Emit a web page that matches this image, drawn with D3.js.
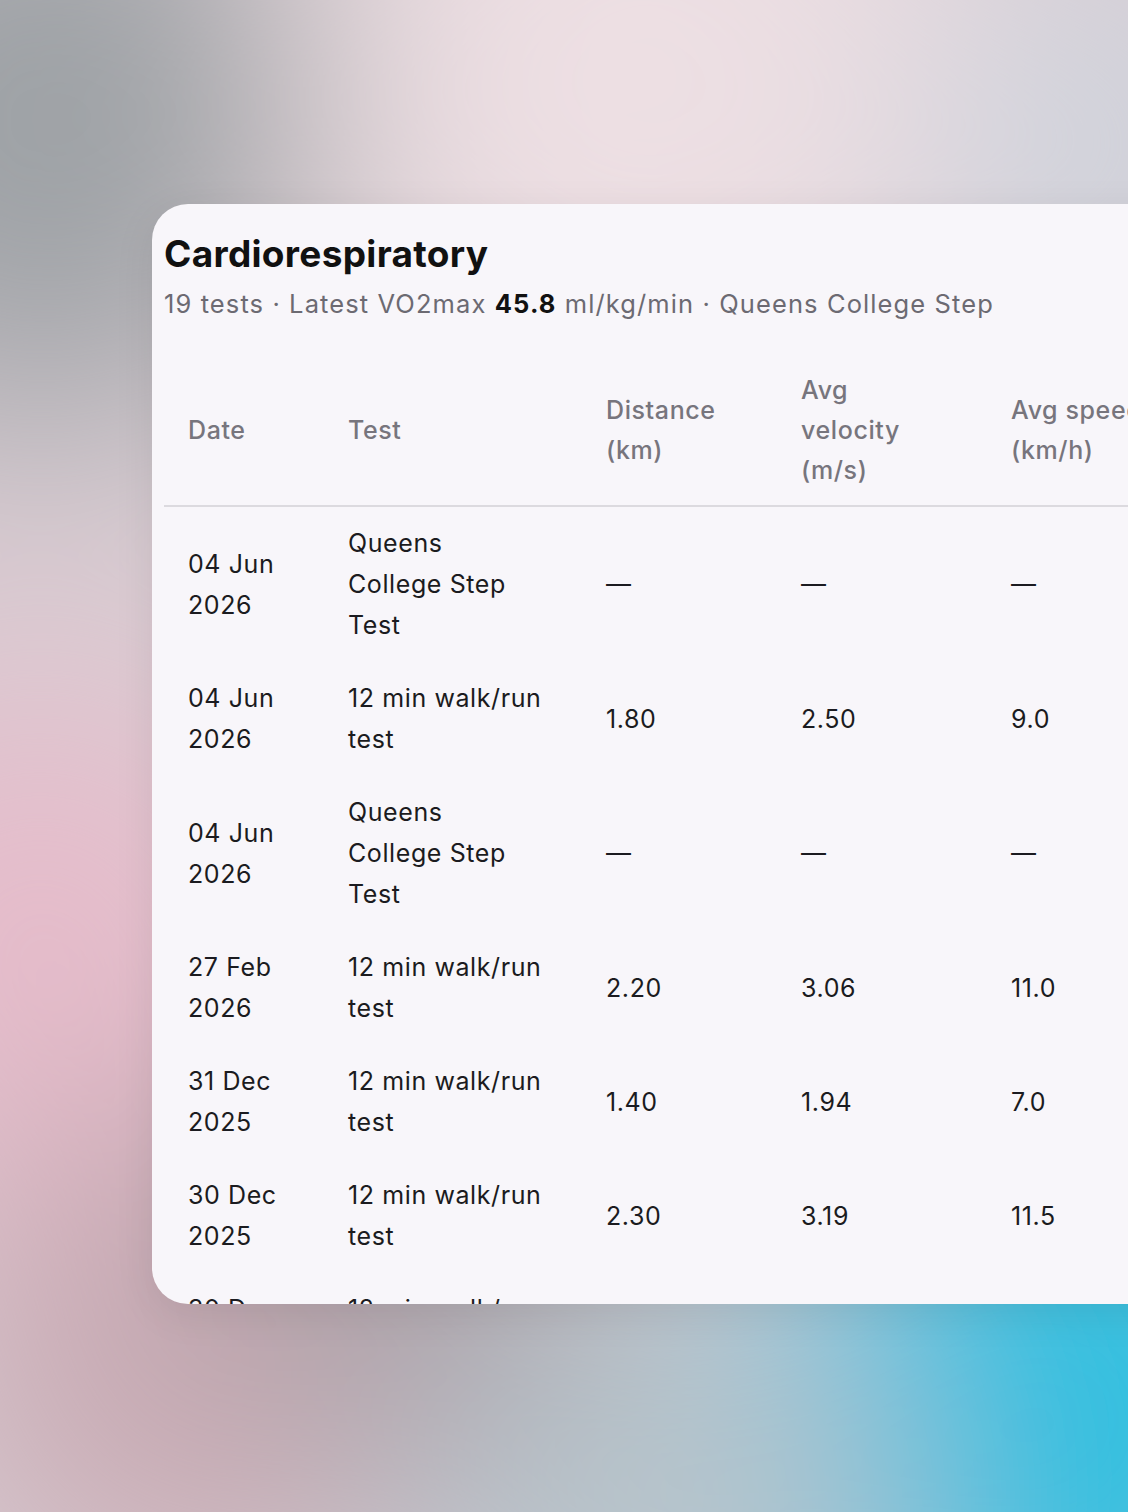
<!DOCTYPE html>
<html><head><meta charset="utf-8">
<script src="https://cdn.jsdelivr.net/npm/d3@7"></script>
<style>
html,body{margin:0;width:1128px;height:1512px;overflow:hidden;font-family:Inter,"Noto Sans",sans-serif;}
#bg{position:absolute;left:0;top:0;}
#card{position:absolute;left:152px;top:204px;width:1100px;height:1100px;background:#f8f6fa;border-radius:36px 0 0 36px;overflow:hidden;box-shadow:0 10px 40px rgba(0,0,0,0.08);}
h1{position:absolute;left:12px;top:27px;margin:0;font-size:37px;font-weight:700;color:#111;letter-spacing:0.3px;}
.sub{position:absolute;left:12px;top:84px;font-size:25.5px;color:#6c6a72;white-space:nowrap;letter-spacing:1.1px;}
.sub b{color:#111;font-weight:700;}
table{position:absolute;left:12px;top:166px;border-collapse:collapse;font-size:25px;letter-spacing:0.6px;table-layout:fixed;width:1160px;}
th,td{box-sizing:border-box;}
th{font-weight:500;color:#77757d;text-align:left;line-height:40px;padding:0 0 15px 24px;vertical-align:middle;border-bottom:2px solid #dcdadf;white-space:nowrap;}
td{color:#1b1b20;line-height:41px;padding:16px 0 16px 24px;vertical-align:middle;white-space:nowrap;}
</style></head><body>
<svg id="bg" width="1128" height="1512"></svg>
<div id="card"><h1>Cardiorespiratory</h1><div class="sub"></div><table><thead></thead><tbody></tbody></table></div>
<script>
const testCount = 19, latestVo2 = "45.8", latestTest = "Queens College Step";
const headers = [["Date"], ["Test"], ["Distance", "(km)"], ["Avg", "velocity", "(m/s)"], ["Avg speed", "(km/h)"]];
const colWidths = [160, 258, 195, 210, 337];
const dates = [["04 Jun","2026"],["04 Jun","2026"],["04 Jun","2026"],["27 Feb","2026"],["31 Dec","2025"],["30 Dec","2025"],["30 Dec","2025"]];
const tests = [["Queens","College Step","Test"],["12 min walk/run","test"],["Queens","College Step","Test"],["12 min walk/run","test"],["12 min walk/run","test"],["12 min walk/run","test"],["12 min walk/run","test"]];
const distance = ["—","1.80","—","2.20","1.40","2.30","2.10"];
const velocity = ["—","2.50","—","3.06","1.94","3.19","2.92"];
const speed = ["—","9.0","—","11.0","7.0","11.5","10.5"];

// background blobs
const bg = d3.select("#bg");
const defs = bg.append("defs");
defs.append("filter").attr("id","blur").attr("x","-50%").attr("y","-50%").attr("width","200%").attr("height","200%")
  .append("feGaussianBlur").attr("stdDeviation",120);
bg.append("rect").attr("width",1128).attr("height",1512).attr("fill","#d9cdd3");
const blobs = [
  {x:40,y:120,r:300,c:"#9ea2a6"},{x:650,y:80,r:350,c:"#eddfe3"},{x:1100,y:150,r:200,c:"#cfd3dc"},
  {x:40,y:950,r:260,c:"#e6bccb"},{x:200,y:1350,r:260,c:"#c9aab4"},{x:1050,y:1420,r:330,c:"#2fbfe0"},
  {x:650,y:1500,r:260,c:"#b7c5cc"},{x:400,y:1250,r:180,c:"#a89ea4"}
];
bg.append("g").attr("filter","url(#blur)").selectAll("circle").data(blobs).join("circle")
  .attr("cx",d=>d.x).attr("cy",d=>d.y).attr("r",d=>d.r).attr("fill",d=>d.c);

d3.select(".sub").html(`${testCount} tests · Latest VO2max <b>${latestVo2}</b> ml/kg/min · ${latestTest}`);

d3.select("thead").append("tr").selectAll("th").data(headers).join("th")
  .style("width",(d,i)=>colWidths[i]+"px").html(d=>d.join("<br>"));

const rows = dates.map((d,i)=>[d, tests[i], [distance[i]], [velocity[i]], [speed[i]]]);
d3.select("tbody").selectAll("tr").data(rows).join("tr")
  .selectAll("td").data(d=>d).join("td").html(d=>d.join("<br>"));
</script>
</body></html>
